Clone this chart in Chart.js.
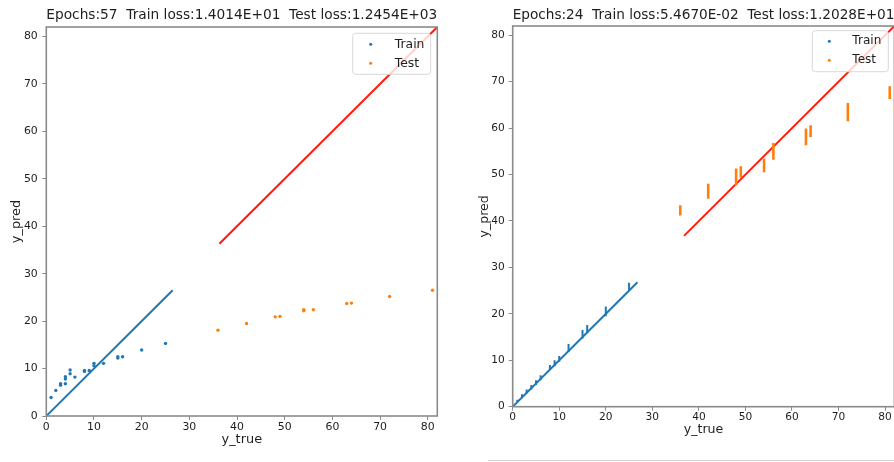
<!DOCTYPE html>
<html>
<head>
<meta charset="utf-8">
<script src="https://cdn.jsdelivr.net/npm/chart.js@4.4.1/dist/chart.umd.min.js"></script>
<style>
  html, body { margin: 0; padding: 0; background: #fff; width: 894px; height: 462px; overflow: hidden; }
  #left { position: absolute; left: 0; top: 0; }
  #right { position: absolute; left: 466px; top: 0; }
  .rule { position: absolute; left: 488px; top: 460px; width: 406px; height: 1px; background: #d0d0d0; }
</style>
</head>
<body>
<canvas id="left" width="450" height="462"></canvas>
<canvas id="right" width="450" height="462"></canvas>
<div class="rule"></div>
<script>
// shared axis ticks
const tickVals = [0, 10, 20, 30, 40, 50, 60, 70, 80];

// run 1 (epoch 57): one prediction per sample
const trainX1 = [1, 2, 3, 3, 4, 4, 4, 5, 5, 6, 8, 8, 9, 10, 10, 12, 15, 15, 16, 20, 25];
const trainY1 = [3.9, 5.4, 6.5, 6.8, 6.8, 7.8, 8.3, 8.9, 9.7, 8.2, 9.4, 9.6, 9.6, 10.6, 11.1, 11.1, 12.2, 12.5, 12.5, 13.9, 15.3];
const testX1 = [36, 42, 48, 49, 54, 54, 56, 63, 64, 72, 81];
const testY1 = [18.1, 19.5, 20.9, 21.0, 22.2, 22.4, 22.4, 23.7, 23.8, 25.2, 26.5];
const trainLine1 = [0, 26.5];
const testLine1 = [36.3, 82];

// run 2 (epoch 24): predictions spread over a range at each y_true
const trainX2 = [1, 2, 3, 4, 5, 6, 8, 9, 10, 12, 15, 16, 20, 25];
const trainLo2 = [1.0, 1.8, 2.9, 3.7, 4.7, 5.7, 7.9, 8.7, 9.7, 11.8, 14.7, 15.8, 19.5, 24.9];
const trainHi2 = [1.5, 2.7, 3.7, 4.7, 5.7, 6.8, 9.0, 10.0, 10.9, 13.5, 16.5, 17.6, 21.6, 26.7];
const testX2 = [36, 42, 48, 49, 54, 56, 63, 64, 72, 81];
const testLo2 = [41.2, 44.8, 47.7, 49.3, 50.5, 53.2, 56.3, 58.1, 61.5, 66.3];
const testHi2 = [43.4, 48.0, 51.3, 51.8, 53.4, 56.8, 59.9, 60.6, 65.4, 69.0];
const trainLine2 = [0, 26.8];
const testLine2 = [36.8, 82];

const BLUE = '#1f77b4';
const ORANGE = '#ff7f0e';
const RED = '#ff1a0a';
const INK = '#1e1e1e';
const SPINE = '#8a8a8a';

Chart.defaults.font.family = '"DejaVu Sans", sans-serif';

const pts = (xs, ys) => xs.map((x, i) => ({ x: x, y: ys[i] }));
const diag = (r) => [{ x: r[0], y: r[0] }, { x: r[1], y: r[1] }];
// vertical segments lo..hi, broken by a null point
function segs(xs, lo, hi) {
  const out = [];
  xs.forEach((x, i) => { out.push({ x: x, y: lo[i] }, { x: x, y: hi[i] }, { x: x, y: null }); });
  return out;
}

// box around the plot area like matplotlib spines
const frame = {
  id: 'frame',
  afterDatasetsDraw(chart) {
    const { ctx, chartArea: a } = chart;
    ctx.save();
    ctx.strokeStyle = SPINE;
    ctx.lineWidth = 1.6;
    ctx.strokeRect(a.left, a.top, a.right - a.left, a.bottom - a.top);
    ctx.restore();
  }
};

// legend in upper right corner with a rounded box
const boxLegend = {
  id: 'boxLegend',
  afterDraw(chart, args, o) {
    const { ctx, chartArea: a } = chart;
    const items = chart.data.datasets.filter(d => d.inLegend);
    const x0 = a.right - o.insetX - o.w;
    const y0 = a.top + o.insetY;
    ctx.save();
    ctx.beginPath();
    ctx.roundRect(x0, y0, o.w, o.h, 3);
    ctx.fillStyle = 'rgba(255,255,255,0.8)';
    ctx.fill();
    ctx.strokeStyle = '#d8d8d8';
    ctx.lineWidth = 1;
    ctx.stroke();
    ctx.font = o.size + 'px "DejaVu Sans"';
    ctx.textBaseline = 'middle';
    items.forEach((d, i) => {
      const y = y0 + o.row0 + i * o.rowGap;
      ctx.fillStyle = d.markColor;
      ctx.beginPath();
      ctx.arc(x0 + o.mark, y, 1.5, 0, Math.PI * 2);
      ctx.fill();
      ctx.fillStyle = INK;
      ctx.fillText(d.label, x0 + o.text, y);
    });
    ctx.restore();
  }
};

function makeChart(id, datasets, s) {
  const grid = { display: true, drawOnChartArea: false, drawTicks: true, tickLength: 4, tickColor: SPINE, lineWidth: 1 };
  const setTicks = (sc) => { sc.ticks = tickVals.map(v => ({ value: v })); };
  return new Chart(document.getElementById(id), {
    type: 'scatter',
    data: { datasets: datasets },
    options: {
      responsive: false,
      animation: false,
      layout: { padding: { left: 0, right: s.padR, top: 0, bottom: 0 } },
      plugins: {
        legend: { display: false },
        tooltip: { enabled: false },
        boxLegend: s.legend
      },
      scales: {
        x: {
          type: 'linear', position: 'bottom', min: 0, max: 82,
          afterBuildTicks: setTicks,
          afterFit: (sc) => { sc.height = s.xH; },
          grid: grid,
          border: { display: false },
          ticks: { color: INK, font: { size: s.tick }, padding: s.xPad, maxRotation: 0 },
          title: { display: true, text: 'y_true', color: INK, font: { size: s.label }, padding: { top: 0, bottom: s.xTitlePad } }
        },
        y: {
          type: 'linear', position: 'left', min: 0, max: 82,
          afterBuildTicks: setTicks,
          afterFit: (sc) => { sc.width = s.yW; },
          grid: grid,
          border: { display: false },
          ticks: { color: INK, font: { size: s.tick }, padding: s.yPad },
          title: { display: true, text: 'y_pred', color: INK, font: { size: s.label }, padding: { top: s.yTitlePad, bottom: 0 } }
        },
        top: {
          type: 'linear', position: 'top', min: 0, max: 1,
          afterFit: (sc) => { sc.height = s.top; },
          grid: { display: false },
          border: { display: false },
          ticks: { display: false },
          title: { display: true, text: s.title, color: INK, font: { size: s.titleSize }, padding: { top: s.titlePad, bottom: 0 } }
        }
      }
    },
    plugins: [frame, boxLegend]
  });
}

makeChart('left', [
  { label: 'Train', inLegend: true, markColor: BLUE, data: pts(trainX1, trainY1),
    backgroundColor: BLUE, borderColor: BLUE, pointRadius: 1.7, pointBorderWidth: 0 },
  { label: 'Test', inLegend: true, markColor: ORANGE, data: pts(testX1, testY1),
    backgroundColor: ORANGE, borderColor: ORANGE, pointRadius: 1.7, pointBorderWidth: 0 },
  { data: diag(trainLine1), showLine: true, borderColor: BLUE, borderWidth: 2, pointRadius: 0 },
  { data: diag(testLine1), showLine: true, borderColor: RED, borderWidth: 2, pointRadius: 0 }
], {
  title: 'Epochs:57  Train loss:1.4014E+01  Test loss:1.2454E+03',
  titleSize: 14.3, titlePad: 6.9, top: 27, yW: 46.3, xH: 46, padR: 12.7,
  tick: 10.9, label: 12.9, xPad: 1, yPad: 4.5, xTitlePad: 14.2, yTitlePad: 9.2,
  legend: { w: 78, h: 41, insetX: 6.6, insetY: 6.3, row0: 11, rowGap: 19, mark: 18, text: 42, size: 12.4 }
});

makeChart('right', [
  { label: 'Train', inLegend: true, markColor: BLUE, data: segs(trainX2, trainLo2, trainHi2),
    showLine: true, spanGaps: false, borderColor: BLUE, borderWidth: 2, pointRadius: 0 },
  { label: 'Test', inLegend: true, markColor: ORANGE, data: segs(testX2, testLo2, testHi2),
    showLine: true, spanGaps: false, borderColor: ORANGE, borderWidth: 2.6, pointRadius: 0 },
  { data: diag(trainLine2), showLine: true, borderColor: BLUE, borderWidth: 2, pointRadius: 0 },
  { data: diag(testLine2), showLine: true, borderColor: RED, borderWidth: 2, pointRadius: 0 }
], {
  title: 'Epochs:24  Train loss:5.4670E-02  Test loss:1.2028E+01',
  titleSize: 14, titlePad: 7.1, top: 26, yW: 46.7, xH: 55.3, padR: 21.6,
  tick: 10.6, label: 12.6, xPad: 0, yPad: 4, xTitlePad: 24.5, yTitlePad: 11.4,
  legend: { w: 76, h: 41, insetX: 6.1, insetY: 4.7, row0: 10.5, rowGap: 19, mark: 17, text: 40, size: 12.1 }
});
</script>
</body>
</html>
